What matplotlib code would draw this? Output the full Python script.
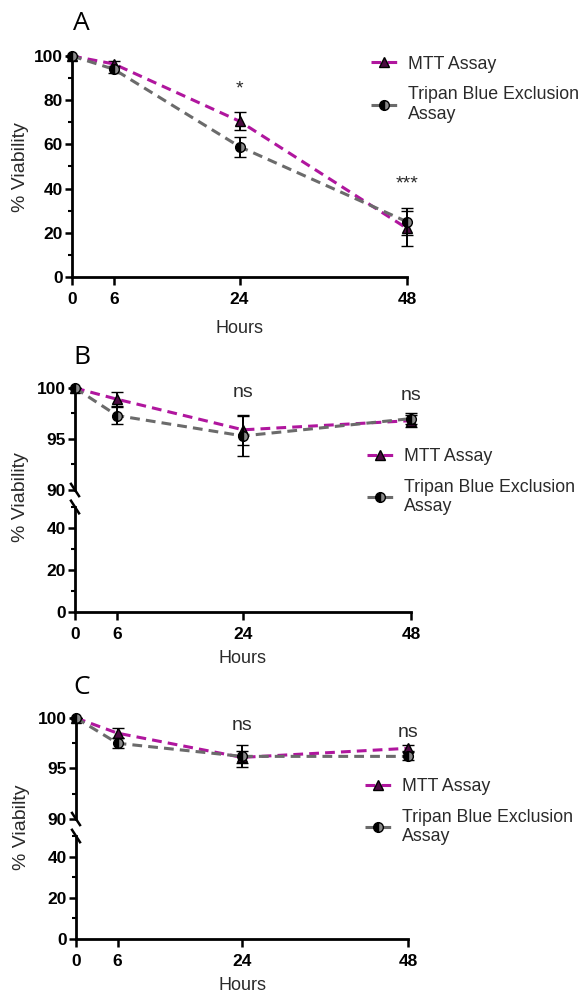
"""Cell viability over time: MTT vs Tripan Blue exclusion, three panels (A, B, C)."""

import matplotlib
matplotlib.use("Agg")
import matplotlib.pyplot as plt
from matplotlib.font_manager import FontProperties
from matplotlib.lines import Line2D
from matplotlib.ticker import MultipleLocator

plt.rcParams["font.family"] = ["Liberation Sans", "DejaVu Sans"]

HOURS = [0, 6, 24, 48]
LABELS = ["MTT Assay", "Tripan Blue Exclusion\nAssay"]

# Panel A
A_MTT = [100, 96.4, 70.5, 22]
A_MTT_ERR = [0, 1.2, 4, 8]
A_TB = [100, 94, 59, 25]
A_TB_ERR = [0, 1.5, 4.5, 6]
A_SIG = ["", "", "*", "***"]
A_SIG_Y = [0, 0, 85, 42]

# Panel B
B_MTT = [100, 98.9, 95.9, 96.8]
B_MTT_ERR = [0, 0.7, 1.5, 0.6]
B_TB = [100, 97.3, 95.3, 97.0]
B_TB_ERR = [0, 0.8, 2.0, 0.5]
B_SIG = ["", "", "ns", "ns"]
B_SIG_Y = [0, 0, 99.6, 99.3]

# Panel C
C_MTT = [100, 98.5, 96.1, 97.0]
C_MTT_ERR = [0, 0.5, 0.6, 0.3]
C_TB = [100, 97.5, 96.2, 96.2]
C_TB_ERR = [0, 0.5, 1.1, 0.4]
C_SIG = ["", "", "ns", "ns"]
C_SIG_Y = [0, 0, 99.3, 98.6]

MAGENTA = "#b0169e"
GREY = "#6b6b6b"
TEXT = "#2a2a2a"
DASH = (0, (3.2, 2))
TICK_FONT = FontProperties(family="Liberation Sans", weight="bold", size=12.5)

MTT_STYLE = dict(color=MAGENTA, ls=DASH, lw=2.2, marker="^", ms=7,
                 mfc="#4a0a40", mec="black", mew=1)
TB_STYLE = dict(color=GREY, ls=DASH, lw=2.2, marker="o", ms=7, fillstyle="left",
                mfc="black", mfcalt="#888888", mec="black", mew=1)
ERR_STYLE = dict(ecolor="black", elinewidth=1.4, capsize=4, capthick=1.4, clip_on=False)

fig = plt.figure(figsize=(5.85, 9.94), dpi=100)


def px(x0, y0, x1, y1):
    """Pixel box (left, top, right, bottom) -> figure fraction rect."""
    W, H = 585, 994
    return [x0 / W, 1 - y1 / H, (x1 - x0) / W, (y1 - y0) / H]


def style(ax, xaxis=True):
    for s in ("top", "right"):
        ax.spines[s].set_visible(False)
    ax.spines["left"].set_linewidth(2)
    ax.spines["bottom"].set_linewidth(2)
    ax.set_xlim(0, 48)
    ax.set_xticks(HOURS)
    ax.tick_params(axis="y", which="major", length=5, width=1.8, direction="out", pad=1.5)
    ax.tick_params(axis="x", which="major", length=6, width=1.8, direction="out", pad=4.5)
    ax.tick_params(axis="y", which="minor", length=3, width=1.5)
    for lab in ax.get_yticklabels() + ax.get_xticklabels():
        lab.set_fontproperties(TICK_FONT)
    if not xaxis:
        ax.spines["bottom"].set_visible(False)
        ax.tick_params(axis="x", which="both", bottom=False, labelbottom=False)
    ax.patch.set_alpha(0)


def draw_series(ax, mtt, mtt_err, tb, tb_err):
    for vals, err, st, z in ((mtt, mtt_err, MTT_STYLE, 3), (tb, tb_err, TB_STYLE, 4)):
        h = ax.errorbar(HOURS, vals, yerr=err, zorder=z, **st, **ERR_STYLE)
        h[0].set_clip_on(False)
        for art in list(h[1]) + list(h[2]):
            art.set_clip_on(False)


def add_legend(ax, x, y):
    handles = [Line2D([], [], **MTT_STYLE), Line2D([], [], **TB_STYLE)]
    leg = ax.legend(handles, LABELS, loc="upper left", bbox_to_anchor=(x, y),
                    bbox_transform=fig.transFigure, frameon=False, fontsize=12.8,
                    handlelength=1.5, handletextpad=0.6, labelspacing=0.75,
                    borderaxespad=0, borderpad=0, labelcolor=TEXT)
    leg.get_texts()[1].set_linespacing(1.22)


def add_sig(ax, sig, sig_y):
    for h, s, y in zip(HOURS, sig, sig_y):
        if s:
            ax.text(h, y, s, ha="center", va="center", fontsize=14, color=TEXT,
                    clip_on=False)


def break_marks(ax, where):
    # short diagonal slash across the left spine
    dx, dy = 0.012, 0.06
    y = 0 if where == "bottom" else 1
    ax.plot([-dx, dx], [y + dy, y - dy], transform=ax.transAxes, color="black", lw=1.8,
            clip_on=False)


# ---------------- Panel A ----------------
axA = fig.add_axes(px(72, 56, 407, 277))
draw_series(axA, A_MTT, A_MTT_ERR, A_TB, A_TB_ERR)
axA.set_ylim(0, 100)
axA.yaxis.set_major_locator(MultipleLocator(20))
axA.yaxis.set_minor_locator(MultipleLocator(10))
style(axA)
add_sig(axA, A_SIG, A_SIG_Y)
axA.set_xlabel("Hours", fontsize=13, labelpad=10, color=TEXT)
fig.text(21 / 585, 1 - 167 / 994, "% Viability", fontsize=14, rotation=90,
         ha="center", va="center", color=TEXT)
add_legend(axA, 0.634, 0.944)
fig.text(73 / 585, 1 - 24 / 994, "A", family="Open Sans", fontsize=19, va="center")


def broken_panel(top_box, bot_box, mtt, mtt_err, tb, tb_err, sig, sig_y,
                 letter, letter_y, ylabel, ylabel_y, leg_xy):
    ax_top = fig.add_axes(px(*top_box))
    ax_bot = fig.add_axes(px(*bot_box))
    draw_series(ax_top, mtt, mtt_err, tb, tb_err)
    ax_top.set_ylim(90, 100)
    ax_top.yaxis.set_major_locator(MultipleLocator(5))
    ax_top.yaxis.set_minor_locator(MultipleLocator(2.5))
    style(ax_top, xaxis=False)
    ax_bot.set_ylim(0, 50)
    ax_bot.set_yticks([0, 20, 40])
    ax_bot.yaxis.set_minor_locator(MultipleLocator(10))
    style(ax_bot)
    add_sig(ax_top, sig, sig_y)
    break_marks(ax_top, "bottom")
    break_marks(ax_bot, "top")
    ax_bot.set_xlabel("Hours", fontsize=13, labelpad=6, color=TEXT)
    fig.text(21 / 585, 1 - ylabel_y / 994, ylabel, fontsize=14, rotation=90,
             ha="center", va="center", color=TEXT)
    fig.text(73 / 585, 1 - letter_y / 994, letter, family="Open Sans", fontsize=19,
             va="center")
    add_legend(ax_top, *leg_xy)


broken_panel((75, 388, 411, 490), (75, 507, 411, 612), B_MTT, B_MTT_ERR, B_TB, B_TB_ERR,
             B_SIG, B_SIG_Y, "B", 357, "% Viability", 497, (0.627, 0.549))
broken_panel((76, 718, 408, 819), (76, 836, 408, 939), C_MTT, C_MTT_ERR, C_TB, C_TB_ERR,
             C_SIG, C_SIG_Y, "C", 687, "% Viabilty", 827, (0.624, 0.217))

fig.savefig("out.png", dpi=100)
